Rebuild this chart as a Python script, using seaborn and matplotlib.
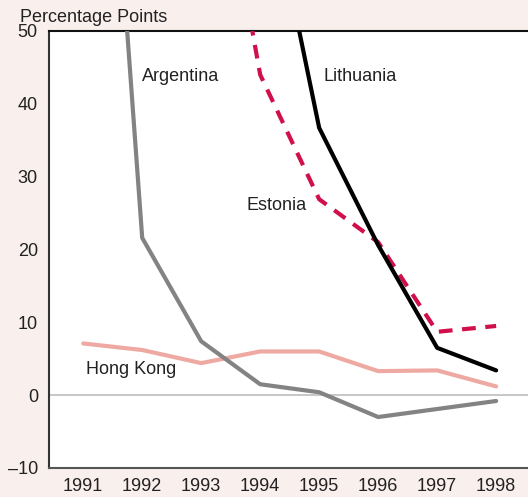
import pandas as pd
import matplotlib
matplotlib.use("Agg")
import matplotlib.pyplot as plt
import seaborn as sns

# ---- data (percentage points) ----
years = [1991, 1992, 1993, 1994, 1995, 1996, 1997, 1998]
argentina = [133.0, 21.6, 7.4, 1.5, 0.4, -3.0, -1.9, -0.8]
hong_kong = [7.1, 6.2, 4.4, 6.0, 6.0, 3.3, 3.4, 1.2]
estonia = [None, None, 89.0, 44.0, 26.9, 21.0, 8.7, 9.5]
lithuania = [None, None, None, 76.0, 36.7, 20.6, 6.5, 3.4]

yticks = [-10, 0, 10, 20, 30, 40, 50]

BG = "#f9efed"
COLORS = {
    "Argentina": "#838383",
    "Hong Kong": "#eeaaa2",
    "Estonia": "#d10f4b",
    "Lithuania": "#000000",
}

sns.set_style("white")
plt.rcParams["font.family"] = ["Liberation Sans", "DejaVu Sans"]

fig = plt.figure(figsize=(5.28, 4.97), dpi=100, facecolor=BG)
ax = fig.add_axes([49 / 528, 1 - 468 / 497, 1 - 49 / 528, (468 - 31) / 497])
ax.set_facecolor("white")

ax.axhline(0, color="#bdbdbd", linewidth=1.2, zorder=1)

series = [
    ("Hong Kong", hong_kong, "-"),
    ("Argentina", argentina, "-"),
    ("Estonia", estonia, "--"),
    ("Lithuania", lithuania, "-"),
]
for name, vals, ls in series:
    df = pd.DataFrame({"Year": years, "Value": vals}).dropna()
    sns.lineplot(data=df, x="Year", y="Value", ax=ax, color=COLORS[name],
                 linewidth=3.0, linestyle=ls, zorder=3)
    if ls == "--":
        ax.lines[-1].set_dashes([3.3, 2.3])

ax.set_xlim(1990.42, 1998.54)
ax.set_ylim(-10, 50)
ax.set_xticks(years)
ax.set_yticks(yticks)
ax.set_yticklabels([str(v).replace("-", "\u2013") for v in yticks])
ax.set_xlabel("")
ax.set_ylabel("")

ax.tick_params(axis="y", direction="in", length=13, width=2, color="#333333",
               labelsize=13, pad=8, labelcolor="#222222")
ax.tick_params(axis="x", direction="in", length=8, width=1.2, color="#444444",
               labelsize=13, pad=7, labelcolor="#222222")

for side in ["top", "left", "bottom"]:
    ax.spines[side].set_visible(True)
ax.spines["right"].set_visible(False)
ax.spines["top"].set_color("#111111")
ax.spines["top"].set_linewidth(1.5)
ax.spines["left"].set_color("#333333")
ax.spines["left"].set_linewidth(1.5)
ax.spines["bottom"].set_color("#555555")
ax.spines["bottom"].set_linewidth(1.5)

# series labels
lab = dict(fontsize=13, color="#222222", va="center", ha="left")
ax.text(1992.0, 43.7, "Argentina", **lab)
ax.text(1995.08, 43.7, "Lithuania", **lab)
ax.text(1993.77, 26.1, "Estonia", **lab)
ax.text(1991.05, 3.5, "Hong Kong", **lab)

fig.text(20 / 528, 1 - 17 / 497, "Percentage Points", fontsize=13,
         color="#222222", va="center", ha="left")

fig.savefig("out.png", dpi=100, facecolor=BG)
